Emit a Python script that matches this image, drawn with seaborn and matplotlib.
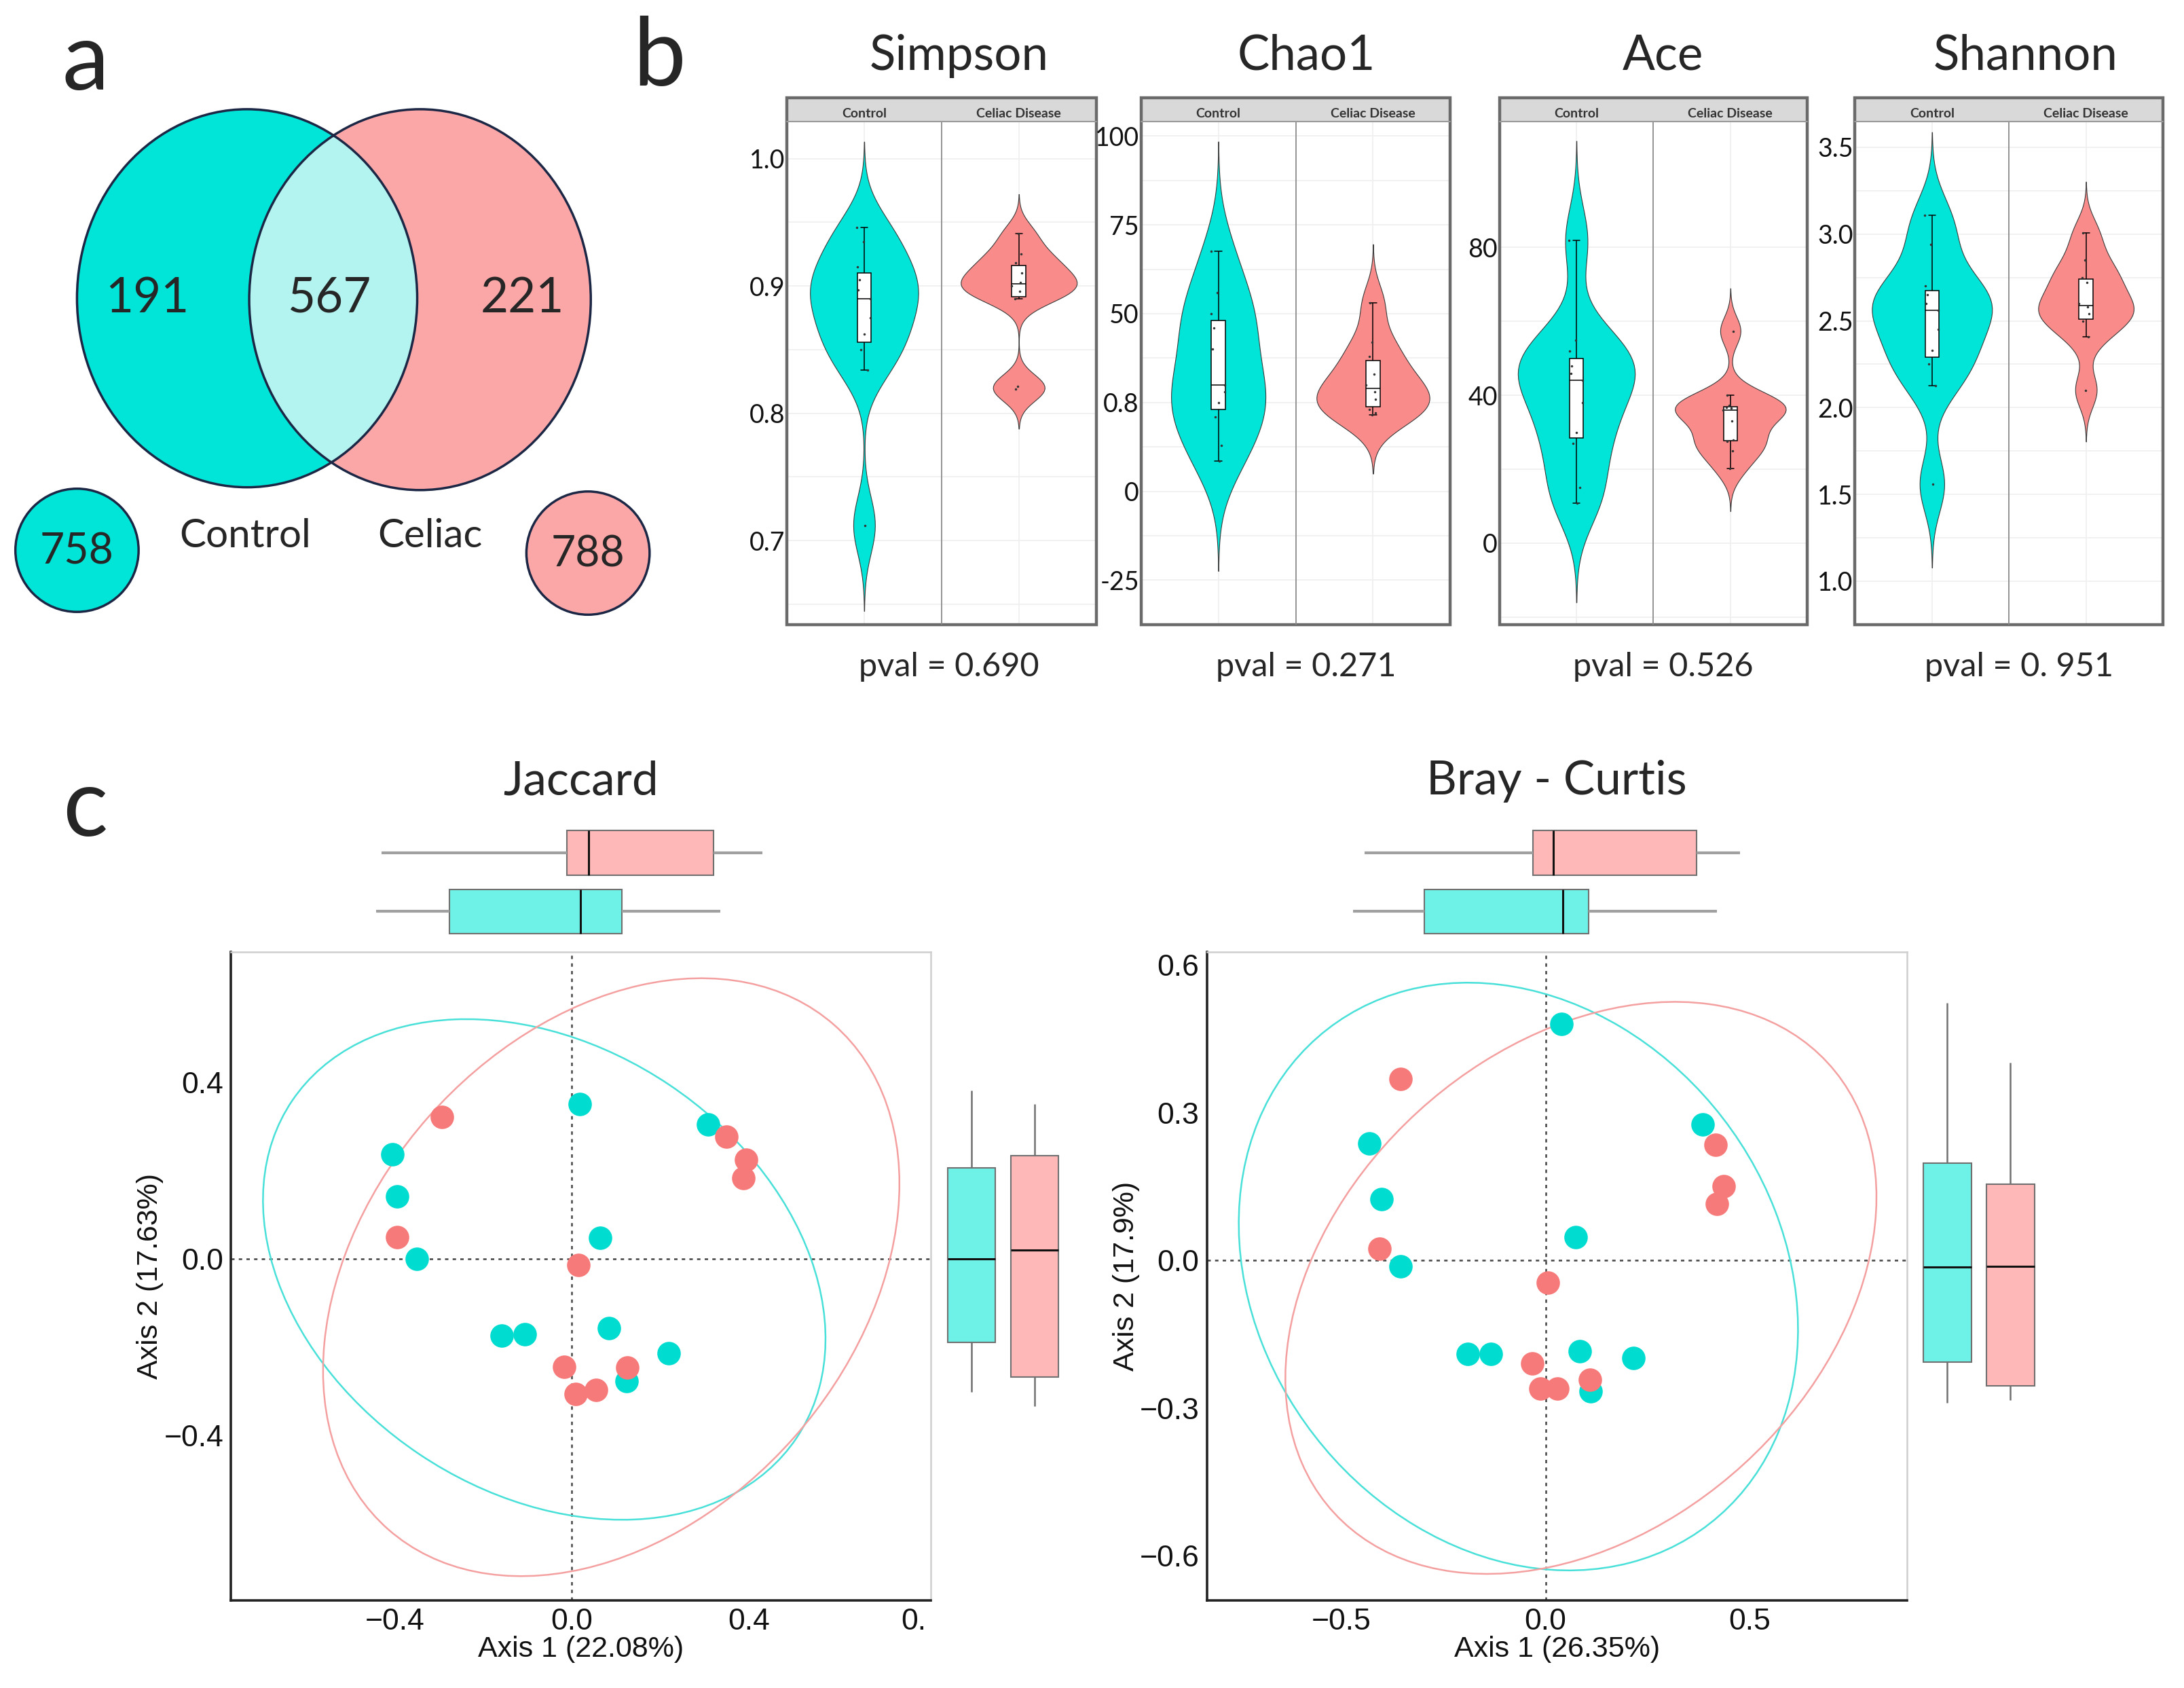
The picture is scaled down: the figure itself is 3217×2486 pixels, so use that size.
import numpy as np
import pandas as pd
import matplotlib
matplotlib.use('Agg')
import matplotlib.pyplot as plt
from matplotlib.patches import Ellipse, Circle, Rectangle
import seaborn as sns

# ---------------- data ----------------
# panel a: shared / unique features
venn_only_control = 191
venn_shared = 567
venn_only_celiac = 221
venn_total_control = 758
venn_total_celiac = 788

# panel b: alpha diversity per sample
groups = ['Control', 'Celiac Disease']
simpson_control = [0.712, 0.834, 0.850, 0.862, 0.875, 0.890, 0.897, 0.905, 0.915, 0.935, 0.946]
simpson_celiac = [0.941, 0.925, 0.918, 0.910, 0.903, 0.900, 0.896, 0.890, 0.821, 0.819]
chao1_control = [8.5, 13, 21, 25, 28, 30, 40, 46, 50, 56, 67.5]
chao1_celiac = [21.5, 22, 23, 26, 28, 30, 33, 38, 42, 53]
ace_control = [10.8, 15, 27, 30, 38, 44, 46, 48, 52, 55, 82.0]
ace_celiac = [20.2, 25, 27.5, 28, 33, 36, 36.5, 36.8, 37.2, 40, 57.4]
shannon_control = [1.558, 2.128, 2.25, 2.33, 2.45, 2.56, 2.6, 2.65, 2.7, 2.94, 3.107]
shannon_celiac = [2.10, 2.41, 2.5, 2.54, 2.58, 2.6, 2.72, 2.75, 2.85, 3.006]
metric_names = ['Simpson', 'Chao1', 'Ace', 'Shannon']
pval_labels = ['pval = 0.690', 'pval = 0.271', 'pval = 0.526', 'pval = 0. 951']
simpson_ticks = [0.7, 0.8, 0.9, 1.0]
simpson_ticklabels = ['0.7', '0.8', '0.9', '1.0']
chao1_ticks = [-25, 0, 25, 50, 75, 100]
chao1_ticklabels = ['-25', '0', '0.8', '50', '75', '100']
ace_ticks = [0, 40, 80]
ace_ticklabels = ['0', '40', '80']
shannon_ticks = [1.0, 1.5, 2.0, 2.5, 3.0, 3.5]
shannon_ticklabels = ['1.0', '1.5', '2.0', '2.5', '3.0', '3.5']

# panel c: PCoA coordinates
jac_ctrl_x = [-0.406, -0.394, -0.350, 0.018, 0.307, 0.063, -0.158, -0.107, 0.084, 0.218, 0.124]
jac_ctrl_y = [0.236, 0.141, 0.000, 0.350, 0.304, 0.047, -0.175, -0.172, -0.157, -0.214, -0.277]
jac_cel_x = [-0.294, -0.395, 0.349, 0.394, 0.387, 0.015, -0.017, 0.125, 0.009, 0.054]
jac_cel_y = [0.321, 0.049, 0.277, 0.225, 0.183, -0.014, -0.245, -0.247, -0.307, -0.298]
bc_ctrl_x = [0.039, 0.385, -0.432, -0.402, -0.355, 0.073, -0.190, -0.134, 0.083, 0.215, 0.111]
bc_ctrl_y = [0.480, 0.276, 0.237, 0.124, -0.012, 0.047, -0.190, -0.190, -0.185, -0.198, -0.266]
bc_cel_x = [-0.355, -0.406, 0.416, 0.436, 0.420, 0.006, -0.033, 0.108, -0.012, 0.029]
bc_cel_y = [0.368, 0.023, 0.234, 0.151, 0.115, -0.045, -0.210, -0.242, -0.261, -0.261]
# 95% ellipses: centre x, centre y, width, height, angle
jac_ell_ctrl = [-0.0625, -0.0245, 1.372, 1.010, -33.9]
jac_ell_cel = [0.0888, -0.042, 1.524, 1.100, 48.7]
bc_ell_ctrl = [-0.0665, -0.033, 1.421, 1.131, -26.4]
bc_ell_cel = [0.0865, -0.056, 1.540, 1.035, 27.6]

# ---------------- style ----------------
CYAN = '#00E5D8'
PINK = '#F98B8B'
VENN_PINK = '#FCA7A7'
LENS = '#B3F3F0'
NAVY = '#1B2745'
PT_CYAN = '#00DCCF'
PT_PINK = '#F77A7A'
ELL_CYAN = '#48E0D8'
ELL_PINK = '#F5A0A0'
M_CYAN = '#6EF2E8'
M_PINK = '#FFB8B8'

sns.set_style('white')
plt.rcParams['font.family'] = ['Lato', 'DejaVu Sans']
ARIAL = ['Liberation Sans', 'DejaVu Sans']

fig = plt.figure(figsize=(32.17, 24.86), dpi=100)
DW = 1560.0
DH = DW * 2486 / 3217


def box(x0, y0, x1, y1):
    return [x0 / DW, 1 - y1 / DH, (x1 - x0) / DW, (y1 - y0) / DH]


def ftext(x, y, s, size, **kw):
    fig.text(x / DW, 1 - y / DH, s, ha='center', va='center', fontsize=size, **kw)


# ---------------- panel a: Venn ----------------
ax0 = fig.add_axes([0, 0, 1, 1])
ax0.set_xlim(0, DW)
ax0.set_ylim(DH, 0)
ax0.axis('off')

left_e = Ellipse((176.5, 213), 243, 270, fc=CYAN, ec='none')
right_e = Ellipse((300, 214), 244, 272, fc=VENN_PINK, ec='none')
ax0.add_patch(left_e)
ax0.add_patch(right_e)
lens = Ellipse((176.5, 213), 243, 270, fc=LENS, ec='none')
ax0.add_patch(lens)
lens.set_clip_path(right_e)
ax0.add_patch(Ellipse((176.5, 213), 243, 270, fill=False, ec=NAVY, lw=2.5))
ax0.add_patch(Ellipse((300, 214), 244, 272, fill=False, ec=NAVY, lw=2.5))
ax0.add_patch(Circle((55, 393), 44, fc=CYAN, ec=NAVY, lw=2.5))
ax0.add_patch(Circle((420, 395), 44, fc=VENN_PINK, ec=NAVY, lw=2.5))

ax0.text(105, 213, str(venn_only_control), ha='center', va='center', fontsize=51)
ax0.text(235, 213, str(venn_shared), ha='center', va='center', fontsize=51)
ax0.text(373, 213, str(venn_only_celiac), ha='center', va='center', fontsize=51)
ax0.text(55, 394, str(venn_total_control), ha='center', va='center', fontsize=45)
ax0.text(420, 396, str(venn_total_celiac), ha='center', va='center', fontsize=45)
ax0.text(175, 383, 'Control', ha='center', va='center', fontsize=42)
ax0.text(307, 383, 'Celiac', ha='center', va='center', fontsize=42)

ftext(61, 45, 'a', 100)
ftext(471, 42, 'b', 100)
ftext(61, 578, 'c', 100)


# ---------------- panel b: violins ----------------
def nrd0_factor(v):
    v = np.asarray(v, float)
    sd = v.std(ddof=1)
    q75, q25 = np.percentile(v, [75, 25])
    bw = 0.9 * min(sd, (q75 - q25) / 1.34) * len(v) ** -0.2
    return bw / sd


def violin_panel(x0, x1, ctrl, celi, ylim, ticks, ticklabels, widths):
    ax = fig.add_axes(box(x0, 87, x1, 446))
    df = pd.DataFrame({'group': [groups[0]] * len(ctrl) + [groups[1]] * len(celi),
                       'value': list(ctrl) + list(celi)})
    for g, vals, col, w in zip(groups, [ctrl, celi], [CYAN, PINK], widths):
        sub = df[df['group'] == g]
        sns.violinplot(data=sub, x='group', y='value', order=groups, color=col,
                       inner=None, cut=3, bw_method=nrd0_factor(vals),
                       density_norm='width', width=w, linewidth=0.8,
                       linecolor='#3A3A3A', saturation=1, ax=ax)
    sns.boxplot(data=df, x='group', y='value', order=groups, width=0.09,
                color='white', linecolor='black', linewidth=1.1, fliersize=0,
                ax=ax)
    np.random.seed(3)
    sns.stripplot(data=df, x='group', y='value', order=groups, color='#333333',
                  size=2.5, jitter=0.05, ax=ax)
    ax.set_xlim(-0.5, 1.5)
    ax.set_ylim(*ylim)
    ax.set_yticks(ticks)
    ax.set_yticklabels(ticklabels)
    step = ticks[1] - ticks[0]
    ax.set_yticks([t + step / 2 for t in ticks[:-1]] + [ticks[0] - step / 2], minor=True)
    ax.set_xticks([0, 1])
    ax.set_xticklabels([])
    ax.grid(True, which='both', color='#EFEFEF', lw=1.2)
    ax.set_axisbelow(True)
    ax.tick_params(axis='both', which='both', length=0, labelsize=27, pad=2,
                   labelcolor='#111111')
    ax.set_xlabel('')
    ax.set_ylabel('')
    ax.axvline(0.5, color='#8A8A8A', lw=1.3)
    for s in ax.spines.values():
        s.set_visible(False)
    strip_h = 17 / 359.0
    ax.add_patch(Rectangle((0, 1), 1, strip_h, transform=ax.transAxes,
                           fc='#D9D9D9', ec='none', clip_on=False))
    ax.plot([0, 1], [1, 1], transform=ax.transAxes, color='#9A9A9A', lw=1.5, clip_on=False)
    ax.add_patch(Rectangle((0, 0), 1, 1 + strip_h, transform=ax.transAxes,
                           fill=False, ec='#6A6A6A', lw=3.2, clip_on=False))
    ax.text(0.25, 1.004, groups[0], transform=ax.transAxes, ha='center',
            va='bottom', fontsize=14, fontweight='bold', color='#333333')
    ax.text(0.75, 1.004, groups[1], transform=ax.transAxes, ha='center',
            va='bottom', fontsize=14, fontweight='bold', color='#333333')
    return ax


violin_panel(562, 783, simpson_control, simpson_celiac, (0.634, 1.029),
             simpson_ticks, simpson_ticklabels, (0.70, 0.75))
violin_panel(815, 1036, chao1_control, chao1_celiac, (-28.3, 104),
             chao1_ticks, chao1_ticklabels, (0.61, 0.73))
violin_panel(1071, 1291, ace_control, ace_celiac, (-22, 114),
             ace_ticks, ace_ticklabels, (0.76, 0.72))
violin_panel(1325, 1545, shannon_control, shannon_celiac, (1.0, 3.647),
             shannon_ticks, shannon_ticklabels, (0.78, 0.62))

for name, xc in zip(metric_names, [685, 933, 1188, 1447]):
    ftext(xc, 40, name, 51)
for lab, xc in zip(pval_labels, [678, 933, 1188, 1442]):
    ftext(xc, 476, lab, 35)


# ---------------- panel c: PCoA ----------------
MARG = 1.09


def pcoa_panel(x0, x1, cx, cy, px, py, ell_c, ell_p, xlim, ylim,
               xt, xtl, yt, ytl, xlabel, ylabel, title):
    ax = fig.add_axes(box(x0, 680, x1, 1143))
    ax.axhline(0, color='#444444', lw=1.8, ls=(0, (2, 2.5)), zorder=1)
    ax.axvline(0, color='#444444', lw=1.8, ls=(0, (2, 2.5)), zorder=1)
    for e, col in [(ell_c, ELL_CYAN), (ell_p, ELL_PINK)]:
        ax.add_patch(Ellipse((e[0], e[1]), e[2], e[3], angle=e[4], fill=False,
                             ec=col, lw=1.8, zorder=2))
    sns.scatterplot(x=cx, y=cy, color=PT_CYAN, s=620, linewidth=0, ax=ax, zorder=3)
    sns.scatterplot(x=px, y=py, color=PT_PINK, s=620, linewidth=0, ax=ax, zorder=3)
    ax.set_xlim(*xlim)
    ax.set_ylim(*ylim)
    ax.set_xticks(xt)
    ax.set_xticklabels(xtl, family=ARIAL)
    if xtl[-1] == '0.':
        # the last label is cut off in the source figure
        ax.get_xticklabels()[-1].set_ha('right')
    ax.set_yticks(yt)
    ax.set_yticklabels(ytl, family=ARIAL)
    ax.tick_params(axis='both', length=5, width=1.5, color='#333333',
                   labelsize=32, pad=3, labelcolor='#111111')
    ax.set_xlabel(xlabel, family=ARIAL, fontsize=31, labelpad=0, color='#111111')
    ax.set_ylabel(ylabel, family=ARIAL, fontsize=31, labelpad=0, color='#111111')
    for side in ['left', 'bottom']:
        ax.spines[side].set_color('#222222')
        ax.spines[side].set_linewidth(2.6)
    for side in ['top', 'right']:
        ax.spines[side].set_color('#CFCFCF')
        ax.spines[side].set_linewidth(1.8)

    # top marginal: Axis 1 by group
    dfx = pd.DataFrame({'group': ['Control'] * len(cx) + ['Celiac'] * len(px),
                        'val': list(cx) + list(px)})
    axt = fig.add_axes(box(x0, 588, x1, 672))
    sns.boxplot(data=dfx, x='val', y='group', hue='group', order=['Celiac', 'Control'],
                hue_order=['Celiac', 'Control'], palette=[M_PINK, M_CYAN], width=0.76,
                orient='h', linecolor='#707070', linewidth=1.5, showcaps=False,
                fliersize=0, saturation=1,
                whiskerprops={'color': '#A0A0A0', 'linewidth': 3},
                medianprops={'color': '#111111', 'linewidth': 2.2},
                legend=False, ax=axt)
    axt.set_xlim(xlim[0] / MARG, xlim[1] / MARG)
    axt.set_ylim(1.5, -0.5)
    axt.axis('off')

    # right marginal: Axis 2 by group
    dfy = pd.DataFrame({'group': ['Control'] * len(cy) + ['Celiac'] * len(py),
                        'val': list(cy) + list(py)})
    axr = fig.add_axes(box(x1 + 6.5, 680, x1 + 96.5, 1143))
    sns.boxplot(data=dfy, x='group', y='val', hue='group', order=['Control', 'Celiac'],
                hue_order=['Control', 'Celiac'], palette=[M_CYAN, M_PINK], width=0.76,
                linecolor='#707070', linewidth=1.5, showcaps=False, fliersize=0,
                saturation=1,
                whiskerprops={'color': '#707070', 'linewidth': 1.8},
                medianprops={'color': '#111111', 'linewidth': 2.2},
                legend=False, ax=axr)
    axr.set_ylim(ylim[0] / MARG, ylim[1] / MARG)
    axr.set_xlim(-0.5, 1.5)
    axr.axis('off')

    ftext((x0 + x1) / 2, 558, title, 50)


pcoa_panel(165, 665, jac_ctrl_x, jac_ctrl_y, jac_cel_x, jac_cel_y,
           jac_ell_ctrl, jac_ell_cel, (-0.77, 0.811), (-0.775, 0.695),
           [-0.4, 0.0, 0.4, 0.8], ['\u22120.4', '0.0', '0.4', '0.'],
           [-0.4, 0.0, 0.4], ['\u22120.4', '0.0', '0.4'],
           'Axis 1 (22.08%)', 'Axis 2 (17.63%)', 'Jaccard')
pcoa_panel(862, 1362, bc_ctrl_x, bc_ctrl_y, bc_cel_x, bc_cel_y,
           bc_ell_ctrl, bc_ell_cel, (-0.829, 0.884), (-0.691, 0.626),
           [-0.5, 0.0, 0.5], ['\u22120.5', '0.0', '0.5'],
           [-0.6, -0.3, 0.0, 0.3, 0.6], ['\u22120.6', '\u22120.3', '0.0', '0.3', '0.6'],
           'Axis 1 (26.35%)', 'Axis 2 (17.9%)', 'Bray - Curtis')

fig.savefig('out.png', dpi=100, facecolor='white')
